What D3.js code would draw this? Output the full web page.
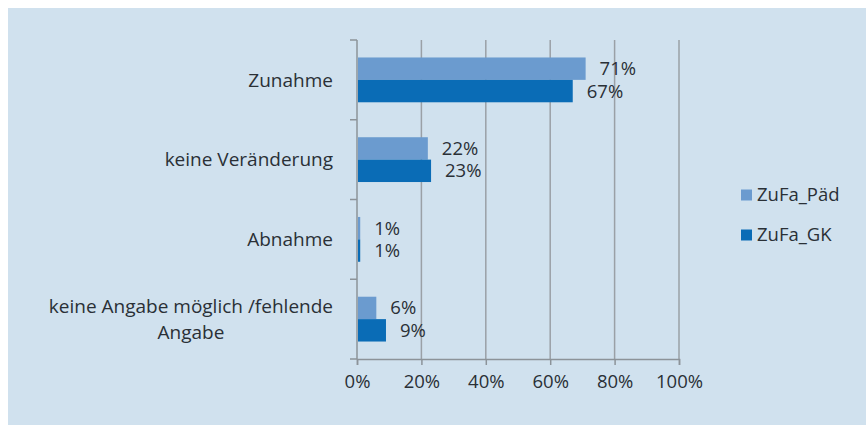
<!DOCTYPE html>
<html>
<head>
<meta charset="utf-8">
<script src="https://cdn.jsdelivr.net/npm/d3@7"></script>
<style>
    html, body { margin: 0; padding: 0; overflow: hidden; background: #ffffff; }
    svg { display: block; }
    svg text { font-family: "Open Sans", sans-serif; fill: #2a3036; }
</style>
</head>
<body>
<svg id="chart"></svg>
<script>
// Data
const categories = ['Zunahme', 'keine Veränderung', 'Abnahme', 'keine Angabe möglich /fehlende Angabe'];
const categoryLines = [['Zunahme'], ['keine Veränderung'], ['Abnahme'], ['keine Angabe möglich /fehlende', 'Angabe']];
const seriesNames = ['ZuFa_Päd', 'ZuFa_GK'];
const seriesPaed = [71, 22, 1, 6];
const seriesGK = [67, 23, 1, 9];
const xTicks = [0, 20, 40, 60, 80, 100];
const colors = ['#6b9bcf', '#0a6cb6'];

const width = 866, height = 425;
const margin = { top: 40, left: 357, right: 187, bottom: 66 };

const svg = d3.select('#chart')
    .attr('width', width)
    .attr('height', height);

// light blue panel
svg.append('rect')
    .attr('x', 8).attr('y', 8)
    .attr('width', width - 8).attr('height', height - 8)
    .attr('fill', '#d0e1ee');

const chart = svg.append('g')
    .attr('transform', `translate(${margin.left}, ${margin.top})`);

const innerW = width - margin.left - margin.right;
const innerH = height - margin.top - margin.bottom;

let x = d3.scaleLinear().domain([0, 100]).range([0, innerW]);
let y0 = d3.scaleBand().domain(categories).range([0, innerH]).padding(0);
let y1 = d3.scaleBand().domain(seriesNames).range([0, y0.bandwidth()])
    .paddingInner(0).paddingOuter(0.78);

// gridlines
chart.append('g')
    .selectAll('line')
    .data(xTicks.slice(1))
    .join('line')
    .attr('x1', d => x(d)).attr('x2', d => x(d))
    .attr('y1', 0).attr('y2', innerH)
    .attr('stroke', '#9aa0a6')
    .attr('stroke-width', 1.5);

// x axis
let xAxis = d3.axisBottom(x)
    .tickValues(xTicks)
    .tickFormat(d => d + '%')
    .tickSize(6)
    .tickPadding(10);

const xg = chart.append('g')
    .attr('class', 'x-axis')
    .attr('transform', `translate(0, ${innerH})`)
    .call(xAxis);
xg.select('.domain').attr('stroke', '#8c9399').attr('stroke-width', 1.5);
xg.selectAll('.tick line').attr('stroke', '#8c9399').attr('stroke-width', 1.5);
xg.selectAll('.tick text').style('font-size', '18.5px').attr('fill', '#2a3036');

// y axis line with category boundary ticks
chart.append('line')
    .attr('x1', 0).attr('x2', 0)
    .attr('y1', 0).attr('y2', innerH)
    .attr('stroke', '#8c9399').attr('stroke-width', 1.5);

const bounds = categories.map(c => y0(c)).concat([innerH]);
chart.append('g')
    .selectAll('line')
    .data(bounds)
    .join('line')
    .attr('x1', -7).attr('x2', 0)
    .attr('y1', d => d).attr('y2', d => d)
    .attr('stroke', '#8c9399').attr('stroke-width', 1.5);

// category labels
const labelRight = -24;
categories.forEach((c, i) => {
    const lines = categoryLines[i];
    const cy = y0(c) + y0.bandwidth() / 2;
    const lineH = 26;
    let tmp = chart.append('text').style('font-size', '19px');
    let maxW = 0;
    lines.forEach(l => {
        tmp.text(l);
        maxW = Math.max(maxW, tmp.node().getComputedTextLength());
    });
    tmp.remove();
    const cx = labelRight - maxW / 2;
    const t = chart.append('text')
        .attr('text-anchor', 'middle')
        .style('font-size', '19px');
    lines.forEach((l, j) => {
        t.append('tspan')
            .attr('x', cx)
            .attr('y', cy + (j - (lines.length - 1) / 2) * lineH)
            .attr('dy', '0.35em')
            .text(l);
    });
});

// bars
const rows = categories.map((c, i) => ({
    category: c,
    values: [
        { series: seriesNames[0], value: seriesPaed[i], color: colors[0] },
        { series: seriesNames[1], value: seriesGK[i], color: colors[1] }
    ]
}));

const groups = chart.selectAll('.group')
    .data(rows)
    .join('g')
    .attr('class', 'group')
    .attr('transform', d => `translate(0, ${y0(d.category)})`);

groups.selectAll('rect')
    .data(d => d.values)
    .join('rect')
    .attr('x', 1)
    .attr('y', d => y1(d.series))
    .attr('width', d => Math.max(x(d.value) - 1, 2))
    .attr('height', y1.bandwidth())
    .attr('fill', d => d.color);

groups.selectAll('.val')
    .data(d => d.values)
    .join('text')
    .attr('class', 'val')
    .attr('x', d => x(d.value) + 14)
    .attr('y', d => y1(d.series) + y1.bandwidth() / 2)
    .attr('dy', '0.35em')
    .style('font-size', '18.5px')
    .text(d => d.value + '%');

// legend
const legend = svg.append('g')
    .attr('transform', 'translate(741, 195)');

legend.selectAll('rect')
    .data(seriesNames)
    .join('rect')
    .attr('x', 0)
    .attr('y', (d, i) => i * 40 - 5.5)
    .attr('width', 11).attr('height', 11)
    .attr('fill', (d, i) => colors[i]);

legend.selectAll('text')
    .data(seriesNames)
    .join('text')
    .attr('x', 16)
    .attr('y', (d, i) => i * 40)
    .attr('dy', '0.35em')
    .style('font-size', '18.5px')
    .text(d => d);
</script>
</body>
</html>
